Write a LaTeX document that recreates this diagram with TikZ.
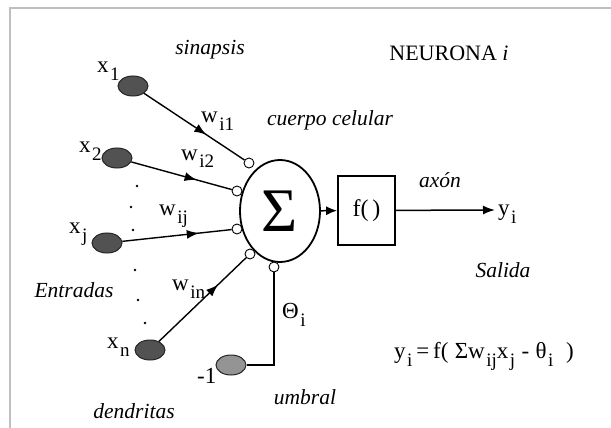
\documentclass[tikz,border=0pt]{standalone}
\usepackage{fontspec}
\setmainfont{Liberation Serif}
\usetikzlibrary{arrows.meta,decorations.markings,shapes.geometric}
\newcommand\lsub[1]{\hspace{1.5pt}\raisebox{-8pt}{\fontsize{19}{19}\selectfont #1}}
\begin{document}
\begin{tikzpicture}[x=1pt,y=-1pt,
  inpt/.style={ellipse,draw=black!85,line width=1pt,fill=black!68,minimum width=30pt,minimum height=20pt,inner sep=0pt},
  bias/.style={inpt,fill=black!42},
  syn/.style={circle,draw,fill=white,line width=0.9pt,minimum size=10pt,inner sep=0pt},
  conn/.style={line width=1.4pt,postaction=decorate},
  midarrow/.style={decoration={markings,mark=at position #1 with {\arrow{Latex[length=12pt,width=9pt]}}}},
  txt/.style={inner sep=0pt,font=\fontsize{22}{26}\selectfont},
  itxt/.style={txt,font=\fontsize{21.5}{26}\selectfont\itshape},
  lbl/.style={anchor=base west,inner sep=0pt,font=\fontsize{23}{26}\selectfont},
]
\useasboundingbox (0,0) rectangle (611,428);
\fill[white] (0,0) rectangle (611,428);
\draw[black!25,line width=2pt] (10,428) -- (10,8.5) -- (611,8.5);

% inputs
\node[inpt] (x1) at (133,86) {};
\node[inpt] (x2) at (117,158) {};
\node[inpt] (xj) at (107,243) {};
\node[inpt] (xn) at (150,350) {};
\node[bias] (m1) at (231,365) {};

% cell body
\node[draw,ellipse,line width=1.8pt,minimum width=80pt,minimum height=102pt,inner sep=0pt,font=\fontsize{62}{62}\selectfont] (sum) at (280,211) {Σ};
\node[syn] (c1) at (249,163) {};
\node[syn] (c2) at (237,191) {};
\node[syn] (c3) at (237,229) {};
\node[syn] (c4) at (250,254) {};
\node[syn] (c5) at (274,267) {};

% activation box
\node[draw,line width=1.8pt,minimum width=57pt,minimum height=69pt,inner sep=0pt,font=\fontsize{24}{26}\selectfont] (f) at (366.5,210.5) {f(\,)};
\coordinate (yend) at (495,210);

% connectors
\draw[conn,midarrow=0.62] (x1) -- (c1);
\draw[conn,midarrow=0.65] (x2) -- (c2);
\draw[conn,midarrow=0.70] (xj) -- (c3);
\draw[conn,midarrow=0.68] (xn) -- (c4);
\draw[line width=1.4pt] (c5) |- (m1);
\draw[line width=1.5pt,-{Latex[length=11pt,width=9pt]}] (sum) -- (f);
\draw[line width=1.5pt,-{Latex[length=12pt,width=9pt]}] (f) -- (yend);

% dots
\foreach \px/\py [count=\k] in {137/186,131/207,133/230,135/270,138/300,145/323}
  \fill (\px,\py) circle (1.4pt);

% labels
\node[lbl] (lx1) at (97,73) {x\lsub{1}};
\node[lbl] (lx2) at (79,153) {x\lsub{2}};
\node[lbl] (lxj) at (69,233) {x\lsub{j}};
\node[lbl] (lxn) at (107,348) {x\lsub{n}};
\node[lbl] (lm1) at (197,383) {-1};
\node[lbl] (lw1) at (201,123) {w\lsub{i1}};
\node[lbl] (lw2) at (181,160) {w\lsub{i2}};
\node[lbl] (lwj) at (159,215) {w\lsub{ij}};
\node[lbl] (lwn) at (172,290) {w\lsub{in}};
\node[lbl] (lth) at (282,318) {Θ\lsub{i}};
\node[lbl] (lyi) at (498,215) {y\lsub{i}};
\node[lbl] (form) at (394,358) {y\lsub{i}\,=\,f(\;Σw\lsub{ij}x\lsub{j}\;-\;θ\lsub{i}\;\;)};

\node[itxt] (sinap) at (210,50) {sinapsis};
\node[txt] (neur) at (449,53) {NEURONA \textit{i}};
\node[itxt] (cuerpo) at (330,120) {cuerpo celular};
\node[itxt] (axon) at (440,180) {axón};
\node[itxt] (salida) at (503,270) {Salida};
\node[itxt] (entr) at (74,290) {Entradas};
\node[itxt] (dend) at (134,411) {dendritas};
\node[itxt] (umbr) at (305,397) {umbral};
\end{tikzpicture}
\end{document}
